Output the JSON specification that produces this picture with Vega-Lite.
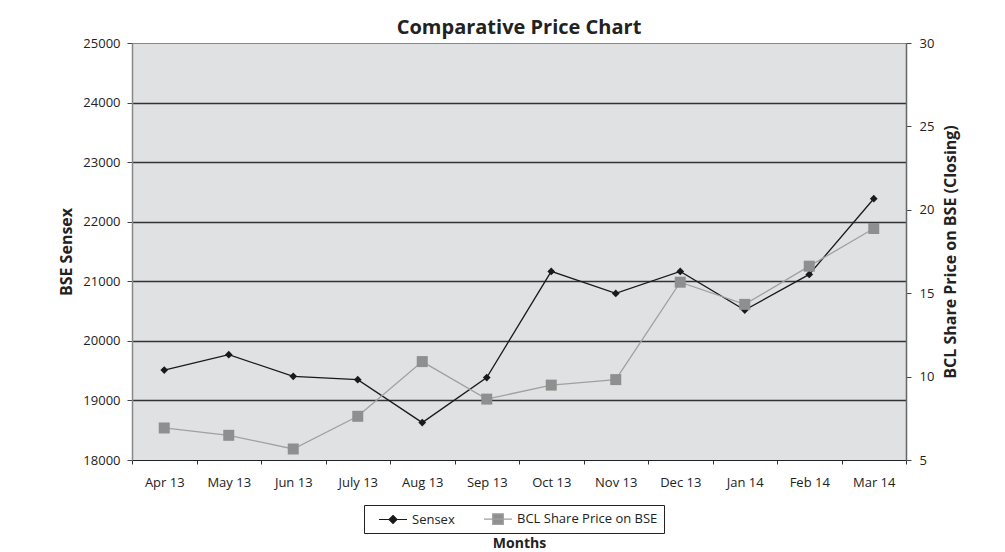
{
  "$schema": "https://vega.github.io/schema/vega-lite/v6.json",
  "autosize": "none",
  "width": 774,
  "height": 417,
  "padding": {"left": 132, "top": 43, "right": 99, "bottom": 92},
  "background": "white",
  "title": {
    "text": "Comparative Price Chart",
    "font": "Open Sans",
    "fontSize": 20,
    "fontWeight": "bold",
    "color": "#222",
    "anchor": "middle",
    "offset": -1
  },
  "data": {
    "values": [
      {"month": "Apr 13", "sensex": 19510, "bcl": 6.92},
      {"month": "May 13", "sensex": 19768, "bcl": 6.48},
      {"month": "Jun 13", "sensex": 19404, "bcl": 5.66},
      {"month": "July 13", "sensex": 19349, "bcl": 7.62},
      {"month": "Aug 13", "sensex": 18628, "bcl": 10.9},
      {"month": "Sep 13", "sensex": 19383, "bcl": 8.65},
      {"month": "Oct 13", "sensex": 21166, "bcl": 9.49},
      {"month": "Nov 13", "sensex": 20797, "bcl": 9.82},
      {"month": "Dec 13", "sensex": 21166, "bcl": 15.66},
      {"month": "Jan 14", "sensex": 20517, "bcl": 14.33},
      {"month": "Feb 14", "sensex": 21116, "bcl": 16.62},
      {"month": "Mar 14", "sensex": 22386, "bcl": 18.88}
    ]
  },
  "encoding": {
    "x": {
      "field": "month",
      "type": "ordinal",
      "sort": null,
      "bandPosition": 0.5,
      "scale": {"type": "band", "paddingInner": 0, "paddingOuter": 0},
      "axis": {
        "title": "Months",
        "titleFont": "Open Sans",
        "titleFontSize": 14,
        "titleFontWeight": "bold",
        "titleColor": "#222",
        "titleY": 83,
        "titleBaseline": "middle",
        "labelAngle": 0,
        "labelFont": "Open Sans",
        "labelFontSize": 13,
        "labelColor": "#222",
        "labelPadding": 12,
        "tickBand": "extent",
        "tickSize": 4,
        "tickColor": "#333",
        "domainColor": "#222",
        "domainWidth": 1.2,
        "grid": false
      }
    }
  },
  "layer": [
    {
      "mark": {
        "type": "line",
        "color": "#1a1a1a",
        "strokeWidth": 1.3,
        "point": {"shape": "diamond", "filled": true, "size": 60, "color": "#1a1a1a", "opacity": 1}
      },
      "encoding": {
        "y": {
          "field": "sensex",
          "type": "quantitative",
          "scale": {"domain": [18000, 25000], "nice": false, "zero": false},
          "axis": {
            "orient": "left",
            "title": "BSE Sensex",
            "titleFont": "Open Sans",
            "titleFontSize": 16,
            "titleFontWeight": "bold",
            "titleColor": "#222",
            "titlePadding": 8,
            "values": [18000, 19000, 20000, 21000, 22000, 23000, 24000, 25000],
            "format": "d",
            "labelFont": "Open Sans",
            "labelFontSize": 13,
            "labelColor": "#222",
            "labelPadding": 7,
            "tickSize": 5,
            "tickColor": "#444",
            "domainColor": "#888",
            "domainWidth": 1.5,
            "grid": true,
            "gridColor": "#333",
            "gridWidth": 1.5,
            "gridOpacity": {"condition": {"test": "datum.value == 18000 || datum.value == 25000", "value": 0}, "value": 1}
          }
        }
      }
    },
    {
      "mark": {
        "type": "line",
        "color": "#a0a0a0",
        "strokeWidth": 1.3,
        "point": {"shape": "square", "filled": true, "size": 121, "color": "#8f8f8f", "opacity": 1}
      },
      "encoding": {
        "y": {
          "field": "bcl",
          "type": "quantitative",
          "scale": {"domain": [5, 30], "nice": false, "zero": false},
          "axis": {
            "orient": "right",
            "title": "BCL Share Price on BSE (Closing)",
            "titleAngle": -90,
            "titleBaseline": "top",
            "titleFont": "Open Sans",
            "titleFontSize": 16,
            "titleFontWeight": "bold",
            "titleColor": "#222",
            "titlePadding": 9,
            "values": [5, 10, 15, 20, 25, 30],
            "labelFont": "Open Sans",
            "labelFontSize": 13,
            "labelColor": "#222",
            "labelPadding": 8,
            "tickSize": 5,
            "tickColor": "#444",
            "domainColor": "#666",
            "domainWidth": 1.5,
            "grid": false
          }
        }
      }
    },
    {
      "data": {
        "values": [
          {"series": "Sensex"},
          {"series": "BCL Share Price on BSE"}
        ]
      },
      "transform": [{"filter": "false"}],
      "mark": {"type": "point", "filled": true, "opacity": 1},
      "encoding": {
        "shape": {
          "field": "series",
          "type": "nominal",
          "scale": {
            "domain": ["Sensex", "BCL Share Price on BSE"],
            "range": [
              "M-2,0L2,0M0,-0.57L0.57,0L0,0.57L-0.57,0Z",
              "M-2,0L2,0M-0.76,-0.76L0.76,-0.76L0.76,0.76L-0.76,0.76Z"
            ]
          },
          "legend": {"title": null}
        },
        "fill": {
          "field": "series",
          "type": "nominal",
          "scale": {"domain": ["Sensex", "BCL Share Price on BSE"], "range": ["#1a1a1a", "#8f8f8f"]},
          "legend": {"title": null}
        },
        "stroke": {
          "field": "series",
          "type": "nominal",
          "scale": {"domain": ["Sensex", "BCL Share Price on BSE"], "range": ["#1a1a1a", "#a0a0a0"]},
          "legend": {"title": null}
        }
      }
    }
  ],
  "resolve": {"scale": {"y": "independent"}},
  "config": {
    "view": {"stroke": "#888", "strokeWidth": 1, "fill": "#e0e1e3"},
    "legend": {
      "orient": "none",
      "legendX": 232,
      "legendY": 462,
      "direction": "horizontal",
      "strokeColor": "#222",
      "padding": 6,
      "symbolOffset": 15,
      "symbolSize": 196,
      "symbolStrokeWidth": 1.2,
      "labelFont": "Open Sans",
      "labelFontSize": 13,
      "labelColor": "#222",
      "labelOffset": 11,
      "columnPadding": 20
    }
  }
}
